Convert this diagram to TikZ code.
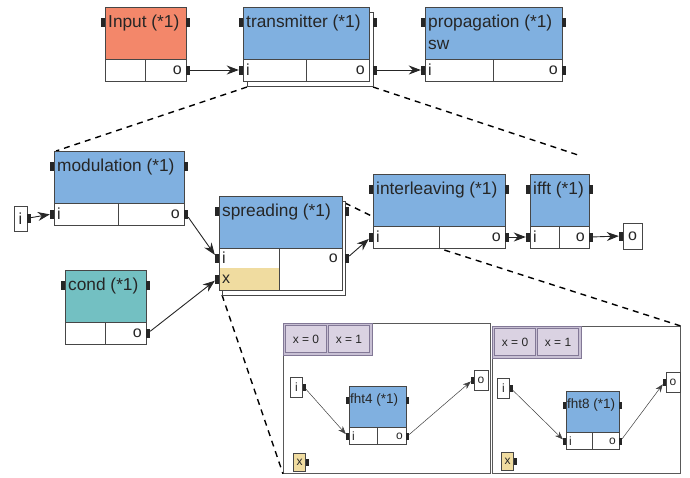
\documentclass[tikz,border=0pt]{standalone}
\usepackage{fontspec}
\setmainfont{Liberation Sans}
\usetikzlibrary{arrows.meta}

\definecolor{inred}{RGB}{243,135,106}
\definecolor{procblue}{RGB}{128,176,224}
\definecolor{condteal}{RGB}{115,192,194}
\definecolor{parmyellow}{RGB}{240,220,160}
\definecolor{tablilac}{RGB}{218,210,226}
\definecolor{tabbar}{RGB}{200,192,212}
\definecolor{tabedge}{RGB}{130,120,150}
\definecolor{edgegray}{RGB}{70,70,70}

\begin{document}
\begin{tikzpicture}[x=1pt,y=-1pt,
    boxedge/.style={draw=edgegray, line width=0.9pt},
    port/.style={fill=black!85, inner sep=0pt, minimum width=4pt, minimum height=9pt},
    smallport/.style={fill=black!85, inner sep=0pt, minimum width=3pt, minimum height=7pt},
    lbl/.style={inner sep=0pt, text=black!85, font=\fontsize{17.3}{19}\selectfont},
    plbl/.style={inner sep=0pt, text=black!85, font=\fontsize{16}{18}\selectfont},
    slbl/.style={inner sep=0pt, text=black!85, font=\fontsize{13.5}{15}\selectfont},
    splbl/.style={inner sep=0pt, text=black!85, font=\fontsize{12}{14}\selectfont},
    iobox/.style={boxedge, fill=white, inner sep=0pt, text=black!85, font=\fontsize{16}{18}\selectfont},
    smallbox/.style={draw=edgegray, line width=0.7pt, fill=white, inner sep=0pt,
        minimum width=12pt, minimum height=20pt, text=black!85, font=\fontsize{12}{14}\selectfont},
    subframe/.style={draw=black!65, line width=0.8pt, fill=white, inner sep=0pt},
    tab/.style={draw=tabedge, line width=0.7pt, fill=tablilac, inner sep=0pt,
        minimum width=41pt, minimum height=27pt, text=black!85, font=\fontsize{12}{14}\selectfont},
    flow/.style={draw=black!85, line width=0.9pt, -{Stealth[length=12pt,width=9pt]}},
    thinflow/.style={draw=black!75, line width=0.5pt, -{Stealth[length=8pt,width=6pt]}},
    zoomline/.style={draw=black, line width=1.4pt, dash pattern=on 6pt off 5pt}]

\useasboundingbox (0,0) rectangle (690,477);

% ----------------------------------------------------------
% Zoom lines (behind everything)
% ----------------------------------------------------------
\coordinate (trans-sw) at (247,87);
\coordinate (trans-se) at (373,87);
\coordinate (mod-nw) at (56,151);
\coordinate (row-end) at (578,155);
\coordinate (spr-sw) at (222,295);
\coordinate (spr-ne) at (345,203);
\coordinate (inter-hide) at (435,247);

\node[subframe, minimum width=207pt, minimum height=150pt, anchor=north west] (sub4) at (283,323) {};
\node[subframe, minimum width=188pt, minimum height=147pt, anchor=north west] (sub8) at (492,326) {};

\draw[zoomline] (trans-sw) -- (mod-nw);
\draw[zoomline] (trans-se) -- (row-end);
\draw[zoomline] (spr-sw) -- (sub4.south west);
\draw[zoomline] (spr-ne) -- (inter-hide) -- (sub8.north east);

% ----------------------------------------------------------
% Blocks of the top two rows
% ----------------------------------------------------------
\foreach \n/\x/\y/\w/\d/\s/\c/\t in {
    inp/105/7/81/145/0/inred/Input (*1),
    trans/243/7/126/306/4/procblue/transmitter (*1),
    prop/425/7/137/493/0/procblue/propagation (*1),
    mod/54/151/130/118/0/procblue/modulation (*1),
    cond/65/270/81/105/0/condteal/cond (*1),
    inter/373/174/132/439/0/procblue/interleaving (*1),
    ifft/530/174/59/559/0/procblue/ifft (*1)} {
    \draw[boxedge, fill=white] (\x+\s,\y+1.25*\s) rectangle ++(\w,74);
    \draw[boxedge, fill=\c] (\x,\y) rectangle ++(\w,52);
    \draw[boxedge, fill=white] (\x,\y+52) rectangle ++(\w,22);
    \draw[boxedge] (\d,\y+52) -- ++(0,22);
    \node[lbl, anchor=west] at (\x+3,\y+16) {\t};
    \node[plbl, anchor=east] at (\x+\w-4,\y+63) {o};
    \node[port] (\n-hl) at (\x-2,\y+15) {};
    \node[port] (\n-hr) at (\x+\w+\s+2,\y+15) {};
    \node[port] (\n-o) at (\x+\w+\s+2,\y+63) {};
}

% Blocks with an input port
\foreach \n/\x/\y in {trans/243/7, prop/425/7, mod/54/151, inter/373/174, ifft/530/174} {
    \node[plbl, anchor=west] at (\x+3,\y+63) {i};
    \node[port] (\n-i) at (\x-2,\y+63) {};
}

\node[lbl, anchor=west] at (428,45) {sw};

% ----------------------------------------------------------
% Spreading (two inputs)
% ----------------------------------------------------------
\draw[boxedge, fill=white] (222,201) rectangle (345,295);
\draw[boxedge, fill=procblue] (219,196) rectangle (342,248);
\draw[boxedge, fill=white] (279,248) rectangle (342,290);
\fill[white] (219,248) rectangle (279,268);
\fill[parmyellow] (219,268) rectangle (279,290);
\draw[boxedge] (219,248) rectangle (279,290);
\node[lbl, anchor=west] at (222,212) {spreading (*1)};
\node[plbl, anchor=west] at (222,258) {i};
\node[plbl, anchor=west] at (222,279) {x};
\node[plbl, anchor=east] at (338,258) {o};
\node[port] (spr-hl) at (217,211) {};
\node[port] (spr-hr) at (347,211) {};
\node[port] (spr-i) at (217,258) {};
\node[port] (spr-x) at (217,279) {};
\node[port] (spr-o) at (347,258) {};

% ----------------------------------------------------------
% Outer input / output
% ----------------------------------------------------------
\node[iobox, minimum width=13pt, minimum height=25pt] (ext-i) at (20.5,218.5) {i};
\node[port] (ext-i-p) at (29,218) {};
\node[iobox, minimum width=19pt, minimum height=26pt] (ext-o) at (632.5,236) {o};
\node[port] (ext-o-p) at (621,236) {};

% Connections
\draw[flow] (inp-o) -- (trans-i);
\draw[flow] (trans-o) -- (prop-i);
\draw[flow] (ext-i-p) -- (mod-i);
\draw[flow] (mod-o) -- (spr-i);
\draw[flow] (cond-o) -- (spr-x);
\draw[flow] (spr-o) -- (inter-i);
\draw[flow] (inter-o) -- (ifft-i);
\draw[flow] (ifft-o) -- (ext-o-p);

% ----------------------------------------------------------
% Sub diagrams for x = 0 / x = 1
% ----------------------------------------------------------
\foreach \f/\x/\y in {sub4/283/323, sub8/492/326} {
    \draw[draw=tabedge, line width=0.7pt, fill=tabbar] (\x,\y) rectangle ++(89,32);
    \node[tab] (\f-t0) at (\x+23,\y+16) {x = 0};
    \node[tab] (\f-t1) at (\x+66,\y+16) {x = 1};
}

\foreach \f/\bx/\by/\bw/\bd/\t/\ix/\iy/\ox/\oy/\xx/\xy in {
    s4/349/386/57/377/fht4 (*1)/296.5/387/481/380/299.5/462,
    s8/566/391/53/592/fht8 (*1)/503.5/388.5/673/382/507.5/461} {
    \draw[boxedge, line width=0.7pt, fill=procblue] (\bx,\by) rectangle ++(\bw,41);
    \draw[boxedge, line width=0.7pt, fill=white] (\bx,\by+41) rectangle ++(\bw,17);
    \draw[boxedge, line width=0.7pt] (\bd,\by+41) -- ++(0,17);
    \node[slbl, anchor=west] at (\bx+1,\by+14) {\t};
    \node[splbl, anchor=west] at (\bx+3,\by+50) {i};
    \node[splbl, anchor=east] at (\bx+\bw-3,\by+50) {o};
    \node[smallport] (\f-hl) at (\bx-1.5,\by+14) {};
    \node[smallport] (\f-hr) at (\bx+\bw+1.5,\by+14) {};
    \node[smallport] (\f-i) at (\bx-1.5,\by+50) {};
    \node[smallport] (\f-o) at (\bx+\bw+1.5,\by+50) {};
    % i, o and x boxes
    \node[smallbox] (\f-in) at (\ix,\iy) {i};
    \node[smallport] (\f-inp) at (\ix+7.5,\iy) {};
    \node[smallbox, minimum width=14pt] (\f-out) at (\ox,\oy) {o};
    \node[smallport] (\f-outp) at (\ox-8.5,\oy) {};
    \node[smallbox, fill=parmyellow, minimum height=18pt] (\f-x) at (\xx,\xy) {x};
    \node[smallport] (\f-xp) at (\xx+7.5,\xy) {};
    \draw[thinflow] (\f-inp) -- (\f-i);
    \draw[thinflow] (\f-o) -- (\f-outp);
}

\end{tikzpicture}
\end{document}
